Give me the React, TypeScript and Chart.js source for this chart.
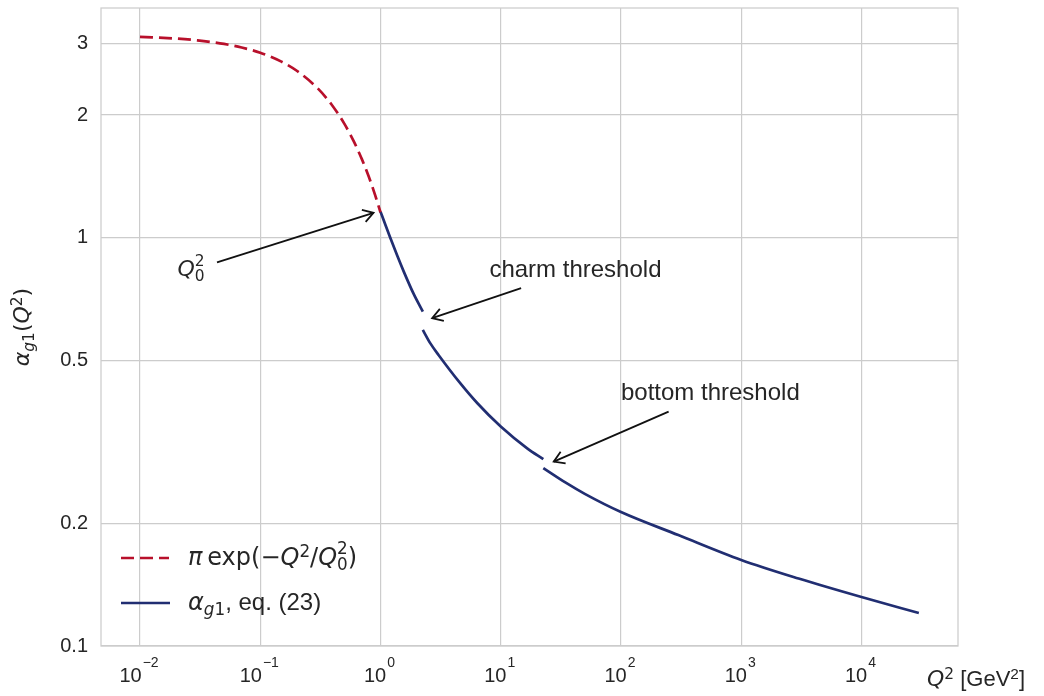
import { useEffect, useRef } from "react"
import { Chart, registerables } from "chart.js"

Chart.register(...registerables)

// Q^2 in GeV^2, alpha values
const gaussQ2 = [0.01, 0.02, 0.03, 0.05, 0.07, 0.1, 0.15, 0.2, 0.3, 0.4, 0.5, 0.6, 0.7, 0.8, 0.9, 1.0]
const gaussAlpha = [3.11, 3.08, 3.049, 2.988, 2.929, 2.843, 2.704, 2.572, 2.327, 2.106, 1.906, 1.724, 1.56, 1.412, 1.277, 1.156]

// null entries break the line at the charm and bottom thresholds
const pertQ2 = [1.0, 1.1, 1.195, 1.38, 1.562, 1.892, 2.25, 2.25, 2.25, 2.6, 3.05, 4.62, 6.37, 10, 16.6, 22.6, 22.6, 22.6, 35, 50, 100, 300, 1000, 3000, 10000, 30000]
const pertAlpha = [1.16, 1.076, 1.008, 0.904, 0.827, 0.728, 0.66, null, 0.595, 0.5515, 0.516, 0.44, 0.394, 0.345, 0.305, 0.287, null, 0.273, 0.251, 0.236, 0.213, 0.187, 0.1625, 0.1463, 0.1318, 0.1205]

const xTicks = [1e-2, 1e-1, 1, 10, 100, 1e3, 1e4]
const yTicks = [0.1, 0.2, 0.5, 1, 2, 3]

// annotation anchors in data coordinates: [x, y]
const q0Label = [0.0205, 0.807]
const q0Arrow = [[0.0437, 0.871], [0.875, 1.152]]
const charmLabel = [8.05, 0.802]
const charmArrow = [[14.78, 0.753], [2.69, 0.636]]
const bottomLabel = [100, 0.401]
const bottomArrow = [[249, 0.3752], [27.6, 0.283]]

const RED = "#b8102b"
const BLUE = "#212e72"
const GRID = "#cccccc"
const TEXT = "#262626"
const SANS = '"Liberation Sans", Arial, sans-serif'
const MATH = '"DejaVu Sans", sans-serif'

type Run = { t: string; f?: "t" | "m" | "i"; s?: "sup" | "sub"; b?: string }

function runFont(r: Run, size: number) {
  const fam = r.f === "m" || r.f === "i" ? MATH : SANS
  const sz = r.s ? size * 0.7 : size
  return `${r.f === "i" ? "italic " : ""}${sz}px ${fam}`
}

function runWidth(ctx: CanvasRenderingContext2D, r: Run, size: number) {
  ctx.font = runFont(r, size)
  let w = ctx.measureText(r.t).width
  if (r.b) w = Math.max(w, ctx.measureText(r.b).width)
  return w
}

function drawRuns(ctx: CanvasRenderingContext2D, runs: Run[], x: number, y: number, size: number, align = "left") {
  const total = runs.reduce((s, r) => s + runWidth(ctx, r, size), 0)
  let cx = align === "center" ? x - total / 2 : align === "right" ? x - total : x
  ctx.textAlign = "left"
  ctx.textBaseline = "alphabetic"
  for (const r of runs) {
    const w = runWidth(ctx, r, size)
    ctx.font = runFont(r, size)
    if (r.b) {
      ctx.fillText(r.t, cx, y - size * 0.45)
      ctx.fillText(r.b, cx, y + size * 0.22)
    } else {
      const dy = r.s === "sup" ? -size * 0.32 : r.s === "sub" ? size * 0.22 : 0
      ctx.fillText(r.t, cx, y + dy)
    }
    cx += w
  }
}

function drawArrow(ctx: CanvasRenderingContext2D, x1: number, y1: number, x2: number, y2: number) {
  const ang = Math.atan2(y2 - y1, x2 - x1)
  const L = 12
  const W = 0.55
  ctx.beginPath()
  ctx.moveTo(x1, y1)
  ctx.lineTo(x2, y2)
  ctx.stroke()
  ctx.beginPath()
  ctx.moveTo(x2 - L * Math.cos(ang - W), y2 - L * Math.sin(ang - W))
  ctx.lineTo(x2, y2)
  ctx.lineTo(x2 - L * Math.cos(ang + W), y2 - L * Math.sin(ang + W))
  ctx.stroke()
}

const overlay = {
  id: "overlay",
  afterDraw(chart: any) {
    const { ctx, chartArea: a } = chart
    const xs = chart.scales.x
    const ys = chart.scales.y
    const px = (p: number[]) => [xs.getPixelForValue(p[0]), ys.getPixelForValue(p[1])]
    ctx.save()

    // frame
    ctx.strokeStyle = GRID
    ctx.lineWidth = 1.25
    ctx.strokeRect(a.left, a.top, a.right - a.left, a.bottom - a.top)

    // x tick labels as 10^n
    ctx.fillStyle = TEXT
    ctx.textAlign = "left"
    ctx.textBaseline = "alphabetic"
    for (const v of xTicks) {
      const x = xs.getPixelForValue(v)
      const exp = String(Math.round(Math.log10(v))).replace("-", "\u2212")
      ctx.font = `20px ${SANS}`
      const w1 = ctx.measureText("10").width
      ctx.font = `14px ${SANS}`
      const w2 = ctx.measureText(exp).width
      const x0 = x - (w1 + w2 + 1) / 2 - 1
      ctx.font = `20px ${SANS}`
      ctx.fillText("10", x0, a.bottom + 36)
      ctx.font = `14px ${SANS}`
      ctx.fillText(exp, x0 + w1 + 1, a.bottom + 21)
    }

    // annotations
    ctx.strokeStyle = "#111111"
    ctx.lineWidth = 1.8
    for (const [t, h] of [q0Arrow, charmArrow, bottomArrow]) {
      const [x1, y1] = px(t)
      const [x2, y2] = px(h)
      drawArrow(ctx, x1, y1, x2, y2)
    }
    ctx.fillStyle = TEXT
    const [qx, qy] = px(q0Label)
    drawRuns(ctx, [{ t: "Q", f: "i" }, { t: "2", f: "m", s: "sup", b: "0" }], qx, qy, 22)
    const [cx, cy] = px(charmLabel)
    drawRuns(ctx, [{ t: "charm threshold" }], cx, cy, 24)
    const [bx, by] = px(bottomLabel)
    drawRuns(ctx, [{ t: "bottom threshold" }], bx, by, 24)

    // legend
    const lx = a.left + 20
    const redY = a.bottom - 88
    const blueY = a.bottom - 43
    ctx.lineWidth = 2.7
    ctx.strokeStyle = RED
    ctx.setLineDash([13, 6])
    ctx.beginPath()
    ctx.moveTo(lx, redY)
    ctx.lineTo(lx + 48, redY)
    ctx.stroke()
    ctx.setLineDash([])
    ctx.strokeStyle = BLUE
    ctx.beginPath()
    ctx.moveTo(lx, blueY)
    ctx.lineTo(lx + 49, blueY)
    ctx.stroke()
    ctx.fillStyle = TEXT
    drawRuns(
      ctx,
      [
        { t: "\u03c0", f: "i" },
        { t: "\u2009exp(\u2212", f: "m" },
        { t: "Q", f: "i" },
        { t: "2", f: "m", s: "sup" },
        { t: "/", f: "m" },
        { t: "Q", f: "i" },
        { t: "2", f: "m", s: "sup", b: "0" },
        { t: ")", f: "m" },
      ],
      lx + 67, redY + 7, 24
    )
    drawRuns(
      ctx,
      [
        { t: "\u03b1", f: "i" },
        { t: "g", f: "i", s: "sub" },
        { t: "1", f: "m", s: "sub" },
        { t: ", eq. (23)" },
      ],
      lx + 67, blueY + 7, 24
    )

    // axis labels
    drawRuns(
      ctx,
      [
        { t: "Q", f: "i" },
        { t: "2", f: "m", s: "sup" },
        { t: " [GeV" },
        { t: "2", s: "sup" },
        { t: "]" },
      ],
      927, 686, 22
    )
    ctx.translate(29, (a.top + a.bottom) / 2)
    ctx.rotate(-Math.PI / 2)
    drawRuns(
      ctx,
      [
        { t: "\u03b1", f: "i" },
        { t: "g", f: "i", s: "sub" },
        { t: "1", f: "m", s: "sub" },
        { t: "(", f: "m" },
        { t: "Q", f: "i" },
        { t: "2", f: "m", s: "sup" },
        { t: ")", f: "m" },
      ],
      0, 0, 22, "center"
    )
    ctx.restore()
  },
}

export default function App() {
  const chartRef = useRef<HTMLCanvasElement>(null)
  const chartInstance = useRef<Chart | null>(null)

  useEffect(() => {
    if (!chartRef.current) return
    if (chartInstance.current) chartInstance.current.destroy()

    const ctx = chartRef.current.getContext("2d")
    if (!ctx) return

    chartInstance.current = new Chart(ctx, {
      type: "line",
      data: {
        datasets: [
          {
            label: "pi exp(-Q^2/Q0^2)",
            data: gaussQ2.map((x, i) => ({ x, y: gaussAlpha[i] })),
            borderColor: RED,
            borderWidth: 2.7,
            borderDash: [13, 6],
            pointRadius: 0,
            cubicInterpolationMode: "monotone",
          },
          {
            label: "alpha_g1, eq. (23)",
            data: pertQ2.map((x, i) => ({ x, y: pertAlpha[i] as any })),
            borderColor: BLUE,
            borderWidth: 2.7,
            pointRadius: 0,
            spanGaps: false,
            cubicInterpolationMode: "monotone",
          },
        ],
      },
      options: {
        animation: false,
        responsive: true,
        maintainAspectRatio: false,
        layout: { padding: { top: 8, right: 86, left: 0, bottom: 0 } },
        plugins: {
          legend: { display: false },
          tooltip: { enabled: false },
        },
        scales: {
          x: {
            type: "logarithmic",
            min: 0.00474,
            max: 63500,
            afterBuildTicks: (scale: any) => {
              scale.ticks = xTicks.map((value) => ({ value }))
            },
            afterFit: (scale: any) => {
              scale.height = 50
              scale.paddingLeft = 0
              scale.paddingRight = 0
            },
            grid: { color: GRID, lineWidth: 1.2, drawTicks: false },
            border: { display: false },
            ticks: { display: false },
          },
          y: {
            type: "logarithmic",
            min: 0.1,
            max: 3.66,
            afterBuildTicks: (scale: any) => {
              scale.ticks = yTicks.map((value) => ({ value }))
            },
            afterFit: (scale: any) => {
              scale.width = 101
              scale.paddingTop = 0
              scale.paddingBottom = 0
            },
            grid: { color: GRID, lineWidth: 1.2, drawTicks: false },
            border: { display: false },
            ticks: {
              padding: 13,
              color: TEXT,
              font: { family: SANS, size: 20 },
              callback: (v: any) => String(v),
            },
          },
        },
      },
      plugins: [overlay],
    })

    return () => {
      if (chartInstance.current) {
        chartInstance.current.destroy()
        chartInstance.current = null
      }
    }
  }, [])

  return (
    <div style={{ position: "absolute", left: 0, top: 0, width: 1044, height: 696, background: "#fff" }}>
      <canvas ref={chartRef} />
    </div>
  )
}
